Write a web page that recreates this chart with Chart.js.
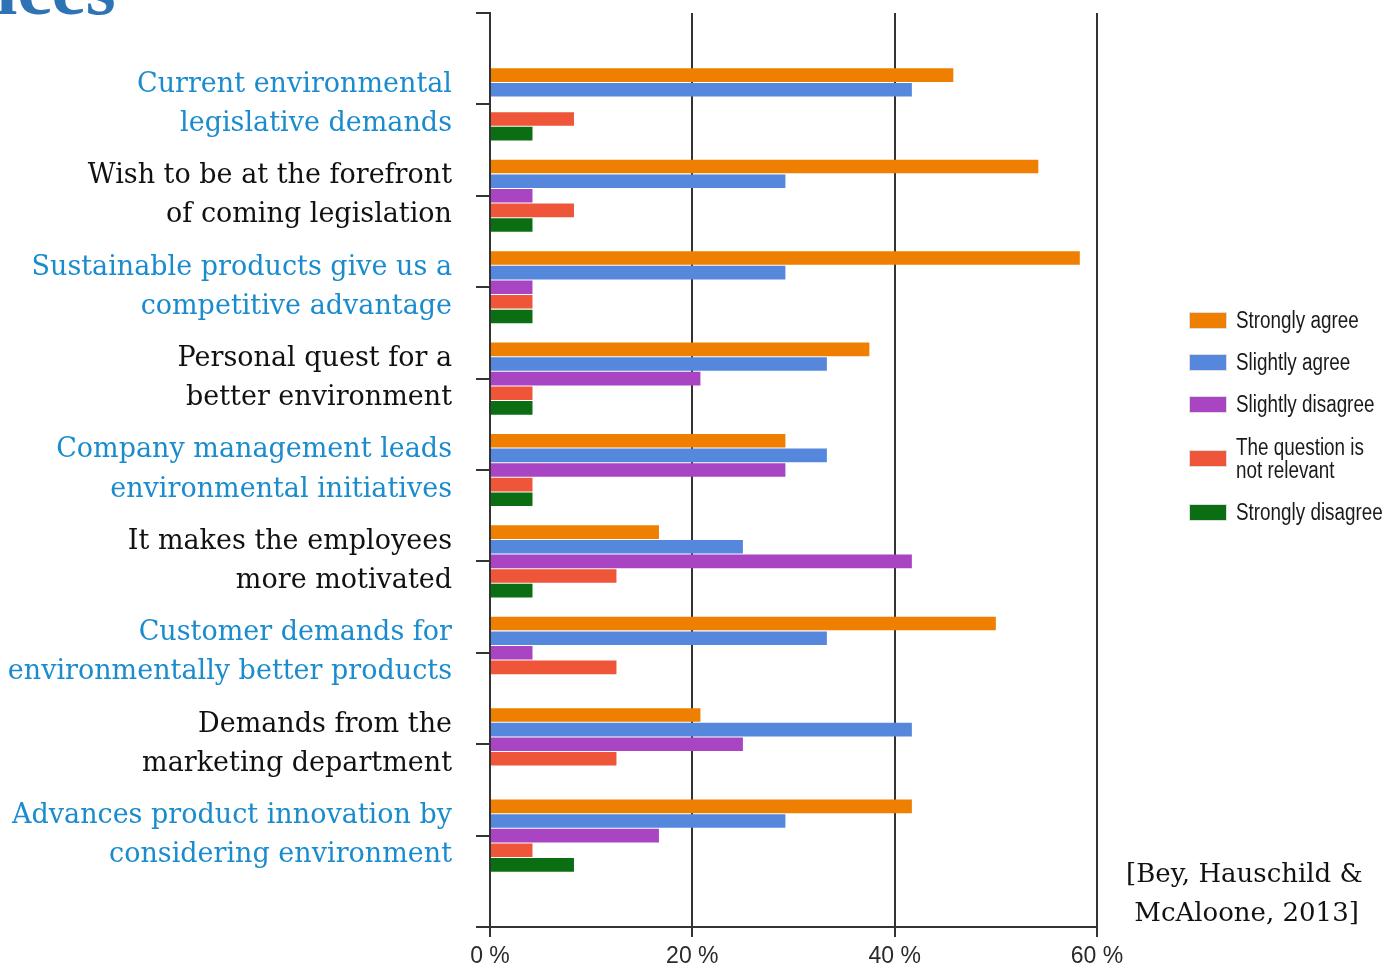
<!DOCTYPE html>
<html>
<head>
<meta charset="utf-8">
<script src="https://cdn.jsdelivr.net/npm/chart.js@4.4.0/dist/chart.umd.min.js"></script>
<style>
  body { margin: 0; background: #fff; overflow: hidden; }
  #wrap { position: relative; width: 1388px; height: 970px; overflow: hidden; }
  #surveyChart { position: absolute; left: 0; top: 0; }
  .title { position: absolute; left: -4px; top: -50px; font: bold 77px "Liberation Serif", serif; line-height: 76px; color: #2e74b5; }
  .cite { position: absolute; left: 1126px; top: 854px; font: 26px "DejaVu Serif", serif; line-height: 39px; color: #111; white-space: pre; }
  .legend-item { position: absolute; left: 1190px; }
  .legend-box { position: absolute; left: 0; width: 36px; height: 15px; box-shadow: 0 0 0 1px rgba(200,200,200,0.6); }
  .legend-text { position: absolute; left: 46px; font: 23px "Liberation Sans", sans-serif; line-height: 23px; color: #1a1a1a; white-space: pre; transform: scaleX(0.82); transform-origin: 0 0; }
</style>
</head>
<body>
<div id="wrap">
  <canvas id="surveyChart" width="1388" height="970"></canvas>
  <div class="title">ices</div>
  <div class="cite">[Bey, Hauschild &amp;
 McAloone, 2013]</div>
  <div id="legend"></div>
</div>
<script>
// Survey answers, share of respondents (%)
const reasons = [
    ['Current environmental', 'legislative demands'],
    ['Wish to be at the forefront', 'of coming legislation'],
    ['Sustainable products give us a', 'competitive advantage'],
    ['Personal quest for a', 'better environment'],
    ['Company management leads', 'environmental initiatives'],
    ['It makes the employees', 'more motivated'],
    ['Customer demands for', 'environmentally better products'],
    ['Demands from the', 'marketing department'],
    ['Advances product innovation by', 'considering environment'],
];
const reasonColors = ['#1a8cce', '#111', '#1a8cce', '#111', '#1a8cce', '#111', '#1a8cce', '#111', '#1a8cce'];

const stronglyAgree    = [45.8, 54.2, 58.3, 37.5, 29.2, 16.7, 50.0, 20.8, 41.7];
const slightlyAgree    = [41.7, 29.2, 29.2, 33.3, 33.3, 25.0, 33.3, 41.7, 29.2];
const slightlyDisagree = [0,    4.2,  4.2,  20.8, 29.2, 41.7, 4.2,  25.0, 16.7];
const notRelevant      = [8.3,  8.3,  4.2,  4.2,  4.2,  12.5, 12.5, 12.5, 4.2];
const stronglyDisagree = [4.2,  4.2,  4.2,  4.2,  4.2,  4.2,  0,    0,    8.3];

const xTicks = [0, 20, 40, 60];

const series = [
    { name: 'Strongly agree', legend: 'Strongly agree', data: stronglyAgree, color: '#ef7f00' },
    { name: 'Slightly agree', legend: 'Slightly agree', data: slightlyAgree, color: '#5588dc' },
    { name: 'Slightly disagree', legend: 'Slightly disagree', data: slightlyDisagree, color: '#a945c2' },
    { name: 'The question is not relevant', legend: 'The question is\nnot relevant', data: notRelevant, color: '#ef5538' },
    { name: 'Strongly disagree', legend: 'Strongly disagree', data: stronglyDisagree, color: '#0b6e12' },
];

// empty slot above and below the categories so the axis runs past them
const labels = [''].concat(reasons, ['']);
const pad = arr => [null].concat(arr.map(v => (v === 0 ? null : v)), [null]);

const ctx = document.getElementById('surveyChart').getContext('2d');
const surveyChart = new Chart(ctx, {
    type: 'bar',
    data: {
        labels: labels,
        datasets: series.map(s => ({
            label: s.name,
            data: pad(s.data),
            backgroundColor: s.color,
            borderWidth: 0,
            categoryPercentage: 0.8,
            barPercentage: 0.93,
        })),
    },
    options: {
        indexAxis: 'y',
        responsive: false,
        animation: false,
        layout: { padding: { left: 0, right: 291, top: 13, bottom: 0 } },
        plugins: { legend: { display: false }, tooltip: { enabled: false } },
        scales: {
            y: {
                offset: false,
                grid: { offset: false, drawOnChartArea: false, drawTicks: true, tickLength: 14, color: '#333', lineWidth: 2 },
                border: { display: true, color: '#333', width: 2 },
                ticks: {
                    autoSkip: false,
                    padding: 24,
                    font: { family: '"DejaVu Serif", serif', size: 27, lineHeight: 1.45 },
                    color: (c) => reasonColors[c.index - 1] || '#111',
                },
                afterFit: (scale) => {
                    scale.width = 490;
                    scale.paddingTop = 0;
                    scale.paddingBottom = 0;
                },
            },
            x: {
                min: 0,
                max: 60,
                afterBuildTicks: (scale) => { scale.ticks = xTicks.map(v => ({ value: v })); },
                grid: { color: '#333', lineWidth: 2, tickLength: 10 },
                border: { display: true, color: '#333', width: 2 },
                ticks: {
                    padding: 6,
                    color: '#2a2a2a',
                    font: { family: '"Liberation Sans", sans-serif', size: 23 },
                    callback: (value) => value + ' %',
                },
                afterFit: (scale) => { scale.height = 43; },
            },
        },
    },
});

// legend on the right
const legendTops = [313, 355, 397, 451, 505];
const legendEl = document.getElementById('legend');
series.forEach((s, i) => {
    const item = document.createElement('div');
    item.className = 'legend-item';
    item.style.top = legendTops[i] + 'px';
    const lines = s.legend.split('\n').length;
    const textTop = 7.5 - (lines * 23) / 2;
    item.innerHTML = '<div class="legend-box" style="background:' + s.color + '"></div>' +
        '<div class="legend-text" style="top:' + textTop + 'px">' + s.legend + '</div>';
    legendEl.appendChild(item);
});
</script>
</body>
</html>
